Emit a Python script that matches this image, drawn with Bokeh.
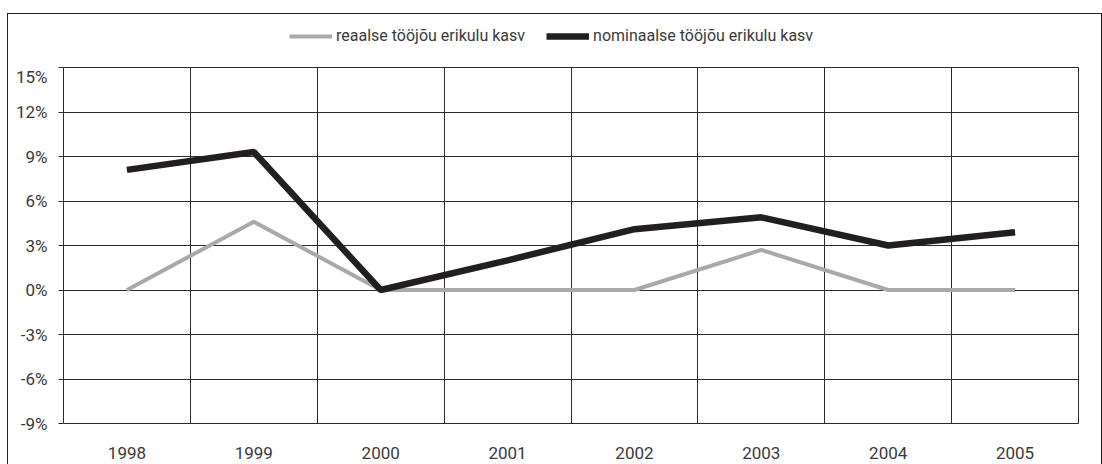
from bokeh.plotting import figure
from bokeh.layouts import column
from bokeh.models import FixedTicker, Legend, LegendItem, CustomJSTickFormatter, GlobalInlineStyleSheet
from bokeh.embed import file_html
from bokeh.resources import INLINE

years = ["1998", "1999", "2000", "2001", "2002", "2003", "2004", "2005"]
real = [0.0, 4.6, 0.0, 0.0, 0.0, 2.7, 0.0, 0.0]
nominal = [8.1, 9.3, 0.0, 2.0, 4.1, 4.9, 3.0, 3.9]
y_ticks = [-9, -6, -3, 0, 3, 6, 9, 12, 15]
series_names = ["reaalse tööjõu erikulu kasv", "nominaalse tööjõu erikulu kasv"]
series_colors = ["#a7a9ac", "#231f20"]
series_widths = [4, 6.5]

xs = list(range(len(years)))
FONT = "Roboto"
TXT = "#3a3a3a"
GRID = "#2b2b2b"

# ---- main chart ----
p = figure(width=1093, height=398, output_backend="svg", toolbar_location=None,
           x_range=(-0.5, len(years) - 0.5), y_range=(y_ticks[0], y_ticks[-1]),
           min_border_left=55, min_border_right=23, min_border_top=1, min_border_bottom=41)
p.background_fill_color = "white"
p.border_fill_color = "white"
p.outline_line_color = GRID
p.outline_line_width = 1

p.xaxis.ticker = FixedTicker(ticks=xs)
p.xaxis.major_label_overrides = {i: y for i, y in zip(xs, years)}
p.xaxis.major_tick_line_color = None
p.xaxis.minor_tick_line_color = None
p.xaxis.axis_line_color = None
p.xaxis.major_label_text_font = FONT
p.xaxis.major_label_text_font_size = "17px"
p.xaxis.major_label_text_color = TXT
p.xaxis.major_label_standoff = 17

p.yaxis.ticker = FixedTicker(ticks=y_ticks)
p.yaxis.formatter = CustomJSTickFormatter(code="return tick + '%';")
p.yaxis.axis_line_color = None
p.yaxis.minor_tick_line_color = None
p.yaxis.major_tick_in = 0
p.yaxis.major_tick_out = 5
p.yaxis.major_tick_line_color = GRID
p.yaxis.major_label_text_font = FONT
p.yaxis.major_label_text_font_size = "17px"
p.yaxis.major_label_text_color = TXT
p.yaxis.major_label_standoff = 11

# vertical grid lines at category boundaries
p.xgrid.ticker = FixedTicker(ticks=[i + 0.5 for i in xs[:-1]])
p.xgrid.grid_line_color = GRID
p.xgrid.grid_line_width = 1
p.ygrid.ticker = FixedTicker(ticks=y_ticks)
p.ygrid.grid_line_color = GRID
p.ygrid.grid_line_width = 1

p.line(xs, real, line_color=series_colors[0], line_width=series_widths[0])
p.line(xs, nominal, line_color=series_colors[1], line_width=series_widths[1])

# ---- legend strip above the chart ----
# the strip's ranges lie outside the data, so only the legend entries show
lf = figure(width=1093, height=52, output_backend="svg", toolbar_location=None,
            x_axis_location=None, y_axis_location=None, min_border=0,
            x_range=(-3, -2), y_range=(-30, -20))
lf.grid.visible = False
lf.outline_line_color = None
lf.background_fill_color = "white"
lf.border_fill_color = "white"
items = []
for name, vals, col, lw in zip(series_names, [real, nominal], series_colors, series_widths):
    r = lf.line(xs, vals, line_color=col, line_width=lw)
    items.append(LegendItem(label=name, renderers=[r]))
legend = Legend(items=items, location=(226, 21), orientation="horizontal",
                border_line_color=None, background_fill_alpha=0,
                padding=0, margin=0, spacing=21, label_standoff=4,
                glyph_width=43, glyph_height=16, label_height=16,
                label_text_font=FONT, label_text_font_size="16px",
                label_text_color=TXT)
lf.add_layout(legend, "center")

layout = column(lf, p, spacing=0)
# outer chart border (top, left, right) drawn by the page body
layout.stylesheets = [GlobalInlineStyleSheet(css=(
    "html body { margin: 13px 0 0 7px; padding: 0; height: auto; box-sizing: border-box;"
    " border-top: 1px solid #222; border-left: 1px solid #222; border-right: 1px solid #222;"
    " border-bottom: none; }"))]

open("out.html", "w").write(file_html(layout, INLINE))
